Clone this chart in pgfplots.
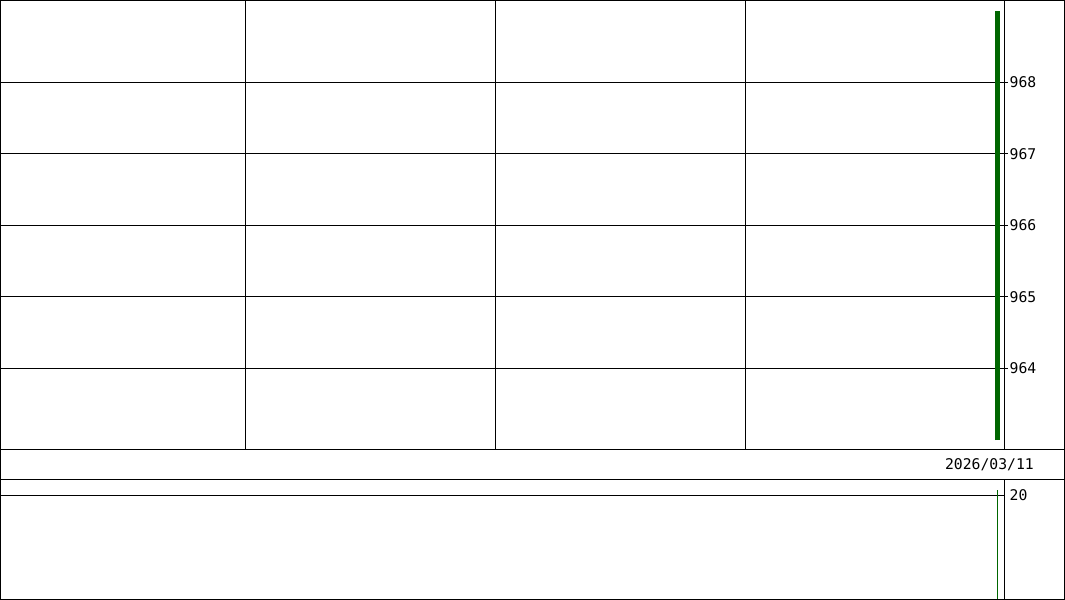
\documentclass[border=0pt]{standalone}
\usepackage{fontspec}
\setmainfont{DejaVu Sans Mono}
\usepackage{pgfplots}
\pgfplotsset{compat=1.18}
\definecolor{candle}{RGB}{0,102,0}

\begin{document}
\begin{tikzpicture}[x=1bp,y=1bp]
\useasboundingbox (0,0) rectangle (1065,-600);
% price panel
\begin{axis}[
    at={(0.5bp,-449.5bp)}, anchor=south west,
    scale only axis, width=1003.5bp, height=449bp,
    xmin=0, xmax=1004, ymin=962.87, ymax=969.14,
    axis line style={line width=1bp},
    xtick={245,495,745}, xticklabels={}, xmajorgrids,
    xtick style={draw=none},
    ytick={964,965,966,967,968}, ymajorgrids, ytick pos=right,
    grid style={black, line width=1bp},
    ytick style={black, line width=1bp},
    tick align=outside, major tick length=3.5bp,
    yticklabel style={font=\fontsize{14.8}{15}\selectfont, inner sep=0pt, xshift=2bp},
    /pgf/number format/assume math mode=true,
    clip=false,
]
\addplot[candle, line width=5.5bp] coordinates {(997.5,963.0) (997.5,969.0)};
\end{axis}
% volume panel
\begin{axis}[
    at={(0.5bp,-599.5bp)}, anchor=south west,
    scale only axis, width=1003.5bp, height=120bp,
    xmin=0, xmax=1004, ymin=0, ymax=23.08,
    axis line style={line width=1bp},
    xtick=\empty,
    ytick={20}, ymajorgrids, ytick pos=right,
    grid style={black, line width=1bp},
    major tick length=0pt,
    yticklabel style={font=\fontsize{14.8}{15}\selectfont, inner sep=0pt, xshift=5.5bp},
    /pgf/number format/assume math mode=true,
    clip=false,
]
\addplot[candle, line width=1bp, densely dashed] coordinates {(0,0.05) (997,0.05)};
\addplot[candle, line width=1.2bp] coordinates {(997.5,0) (997.5,21.15)};
\end{axis}
% frame and date strip
\draw[line width=1bp] (0.5,-0.5) rectangle (1064.5,-599.5);
\draw[line width=1bp] (0,-449.5) -- (1065,-449.5);
\draw[line width=1bp] (0,-479.5) -- (1065,-479.5);
\node[anchor=east, font=\fontsize{14.8}{15}\selectfont, inner sep=0pt] at (1034,-464.5) {2026/03/11};
\end{tikzpicture}
\end{document}
